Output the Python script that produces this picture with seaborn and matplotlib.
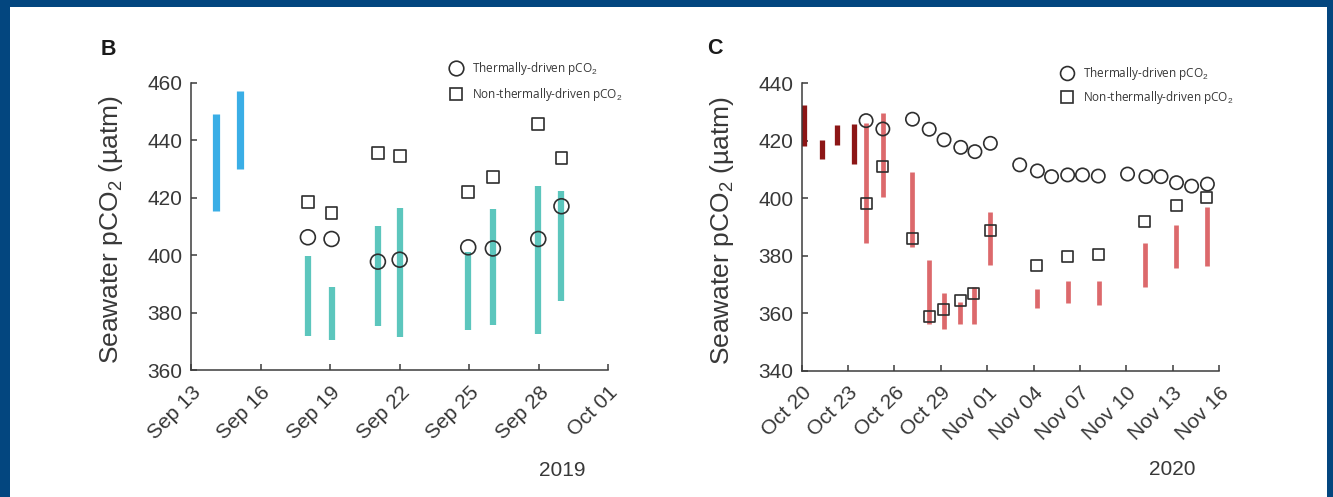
import pandas as pd
import matplotlib
matplotlib.use("Agg")
import matplotlib.pyplot as plt
import matplotlib.dates as mdates
from matplotlib.lines import Line2D
from matplotlib.patches import Rectangle
import seaborn as sns

# ---------------- Panel B (2019) ----------------
b_blue_time = ["2019-09-14 02:00", "2019-09-15 03:00"]
b_blue_low = [415.4, 430.1]
b_blue_high = [449.1, 457.1]

b_time = ["2019-09-18 01:00", "2019-09-19 01:30", "2019-09-21 01:30", "2019-09-22 00:00",
          "2019-09-24 23:00", "2019-09-26 00:30", "2019-09-27 23:30", "2019-09-28 23:30"]
b_teal_low = [371.9, 370.5, 375.4, 371.5, 374.0, 375.8, 372.6, 384.0]
b_teal_high = [399.8, 389.0, 410.1, 416.4, 401.0, 416.1, 424.1, 422.4]
b_thermal = [406.2, 405.6, 397.7, 398.4, 402.7, 402.3, 405.6, 417.0]
b_nonthermal = [418.4, 414.6, 435.6, 434.4, 422.0, 427.3, 445.5, 433.9]

b_xticks = ["2019-09-13", "2019-09-16", "2019-09-19", "2019-09-22",
            "2019-09-25", "2019-09-28", "2019-10-01"]
b_yticks = [360, 380, 400, 420, 440, 460]

# ---------------- Panel C (2020) ----------------
c_dark_time = ["2020-10-20 03:30", "2020-10-21 07:00", "2020-10-22 07:00", "2020-10-23 09:00"]
c_dark_low = [418.2, 413.5, 418.5, 411.9]
c_dark_high = [432.5, 420.3, 425.5, 425.7]

c_red_time = ["2020-10-24 04:00", "2020-10-25 06:00", "2020-10-27 03:30", "2020-10-28 06:00",
              "2020-10-29 04:30", "2020-10-30 06:00", "2020-10-31 03:30", "2020-11-01 05:00",
              "2020-11-04 05:00", "2020-11-06 05:00", "2020-11-08 05:30", "2020-11-11 05:00",
              "2020-11-13 06:00", "2020-11-15 05:00"]
c_red_low = [384.5, 400.3, 383.1, 356.1, 354.6, 356.1, 356.1, 376.7,
             361.6, 363.4, 362.8, 369.2, 375.7, 376.3]
c_red_high = [426.1, 429.8, 409.2, 378.6, 366.9, 364.0, 369.2, 395.3,
              368.3, 371.0, 371.0, 384.3, 390.7, 397.0]
c_nonthermal = [398.0, 411.0, 385.8, 358.7, 361.4, 364.3, 366.9, 388.7,
                376.5, 379.8, 380.5, 391.8, 397.3, 400.3]

c_thermal_time = ["2020-10-24 04:00", "2020-10-25 06:00", "2020-10-27 04:00", "2020-10-28 06:00",
                  "2020-10-29 05:00", "2020-10-30 07:00", "2020-10-31 05:00", "2020-11-01 05:00",
                  "2020-11-03 02:30", "2020-11-04 06:00", "2020-11-05 04:00", "2020-11-06 05:00",
                  "2020-11-07 04:00", "2020-11-08 04:30", "2020-11-10 02:00", "2020-11-11 06:30",
                  "2020-11-12 06:00", "2020-11-13 06:00", "2020-11-14 05:30", "2020-11-15 06:00"]
c_thermal = [427.0, 424.1, 427.5, 424.0, 420.3, 417.7, 416.2, 419.1, 411.6, 409.5,
             407.5, 408.1, 408.1, 407.7, 408.4, 407.5, 407.5, 405.4, 404.2, 404.9]

c_xticks = ["2020-10-20", "2020-10-23", "2020-10-26", "2020-10-29", "2020-11-01",
            "2020-11-04", "2020-11-07", "2020-11-10", "2020-11-13", "2020-11-16"]
c_yticks = [340, 360, 380, 400, 420, 440]

legend_labels = ["Thermally-driven pCO$_2$", "Non-thermally-driven pCO$_2$"]

# ---------------- style ----------------
sns.set_theme(style="ticks")
plt.rcParams["font.family"] = ["Liberation Sans", "DejaVu Sans"]
plt.rcParams["mathtext.fontset"] = "custom"
plt.rcParams["mathtext.rm"] = "Liberation Sans"
plt.rcParams["mathtext.it"] = "Liberation Sans:italic"
plt.rcParams["mathtext.bf"] = "Liberation Sans:bold"

AXIS_COLOR = "#3c3c3c"
TEXT_COLOR = "#383838"
MARKER_EDGE = "#2e2e2e"


def strips_frame(times, lows, highs):
    rows = []
    for i, (t, lo, hi) in enumerate(zip(times, lows, highs)):
        rows.append({"strip": i, "time": pd.Timestamp(t), "pco2": lo})
        rows.append({"strip": i, "time": pd.Timestamp(t), "pco2": hi})
    return pd.DataFrame(rows)


def draw_strips(ax, times, lows, highs, color, lw, alpha=1.0):
    df = strips_frame(times, lows, highs)
    sns.lineplot(data=df, x="time", y="pco2", units="strip", estimator=None,
                 sort=False, color=color, lw=lw, alpha=alpha,
                 solid_capstyle="butt", ax=ax, legend=False)


def draw_markers(ax, times, values, marker, size):
    df = pd.DataFrame({"time": pd.to_datetime(times), "pco2": values})
    sns.scatterplot(data=df, x="time", y="pco2", marker=marker, s=size,
                    facecolor="none", edgecolor=MARKER_EDGE, linewidth=1.2,
                    ax=ax, legend=False, zorder=5)


def style_axes(ax, xticks, yticks):
    xt = pd.to_datetime(xticks)
    ax.set_xlim(xt[0], xt[-1])
    ax.set_ylim(yticks[0], yticks[-1])
    ax.set_xticks(xt)
    ax.set_yticks(yticks)
    ax.xaxis.set_major_formatter(mdates.DateFormatter("%b %d"))
    sns.despine(ax=ax)
    for side in ("left", "bottom"):
        ax.spines[side].set_color(AXIS_COLOR)
        ax.spines[side].set_linewidth(1.1)
    ax.tick_params(direction="in", length=4.5, width=1.1, color=AXIS_COLOR,
                   labelsize=15, labelcolor=TEXT_COLOR)
    ax.tick_params(axis="y", pad=6)
    ax.tick_params(axis="x", pad=9)
    for lab in ax.get_xticklabels():
        lab.set_rotation(45)
        lab.set_ha("right")
        lab.set_va("top")
        lab.set_rotation_mode("anchor")
    ax.set_xlabel("")
    ax.set_ylabel("Seawater pCO$_2$ (µatm)", fontsize=19, color=TEXT_COLOR)
    ax.yaxis.set_label_coords(-0.158, 0.487)
    ax.set_facecolor("white")


def add_legend(ax, anchor, msize_o, msize_s, spacing):
    handles = [
        Line2D([], [], ls="", marker="o", ms=msize_o, mfc="none", mec=MARKER_EDGE, mew=1.2),
        Line2D([], [], ls="", marker="s", ms=msize_s, mfc="none", mec=MARKER_EDGE, mew=1.2),
    ]
    ax.legend(handles, legend_labels, loc="center left", bbox_to_anchor=anchor,
              bbox_transform=ax.figure.transFigure, frameon=False, borderpad=0,
              borderaxespad=0, handlelength=1.2, handletextpad=0.75,
              labelspacing=spacing, prop={"family": "Open Sans", "size": 8.5},
              labelcolor=TEXT_COLOR)


W, H = 1333, 497
fig = plt.figure(figsize=(W / 100, H / 100), dpi=100)
fig.patch.set_facecolor("#03467f")
fig.add_artist(Rectangle((10 / W, 0), (W - 16) / W, 1 - 7 / H, transform=fig.transFigure,
                         facecolor="white", edgecolor="none", zorder=-10))

ax_b = fig.add_axes([191 / W, 1 - 370 / H, 417.3 / W, 287.3 / H])
ax_c = fig.add_axes([801.7 / W, 1 - 370.5 / H, 417.3 / W, 287.2 / H])

# Panel B
draw_strips(ax_b, b_blue_time, b_blue_low, b_blue_high, "#3aaee6", 5.2)
draw_strips(ax_b, b_time, b_teal_low, b_teal_high, "#5cc6bd", 4.5)
draw_markers(ax_b, b_time, b_thermal, "o", 115)
draw_markers(ax_b, b_time, b_nonthermal, "s", 72)
style_axes(ax_b, b_xticks, b_yticks)
add_legend(ax_b, (449 / W, 1 - 81.3 / H), 10.5, 8.6, 0.75)

# Panel C
draw_strips(ax_c, c_dark_time, c_dark_low, c_dark_high, "#8c1616", 3.8)
draw_strips(ax_c, c_red_time, c_red_low, c_red_high, "#d9595c", 3.4, alpha=0.9)
draw_markers(ax_c, c_thermal_time, c_thermal, "o", 92)
draw_markers(ax_c, c_red_time, c_nonthermal, "s", 62)
style_axes(ax_c, c_xticks, c_yticks)
add_legend(ax_c, (1060 / W, 1 - 85.2 / H), 10, 8.2, 0.6)

# Panel letters and year labels
fig.text(108 / W, 1 - 49.5 / H, "B", fontsize=15.5, fontweight="bold", color="#1a1a1a",
         ha="center", va="center")
fig.text(715 / W, 1 - 49 / H, "C", fontsize=15.5, fontweight="bold", color="#1a1a1a",
         ha="center", va="center")
fig.text(562 / W, 1 - 470 / H, "2019", fontsize=15, color=TEXT_COLOR, ha="center", va="center")
fig.text(1172 / W, 1 - 469.5 / H, "2020", fontsize=15, color=TEXT_COLOR, ha="center", va="center")

fig.savefig("out.png", dpi=100, facecolor=fig.get_facecolor())
